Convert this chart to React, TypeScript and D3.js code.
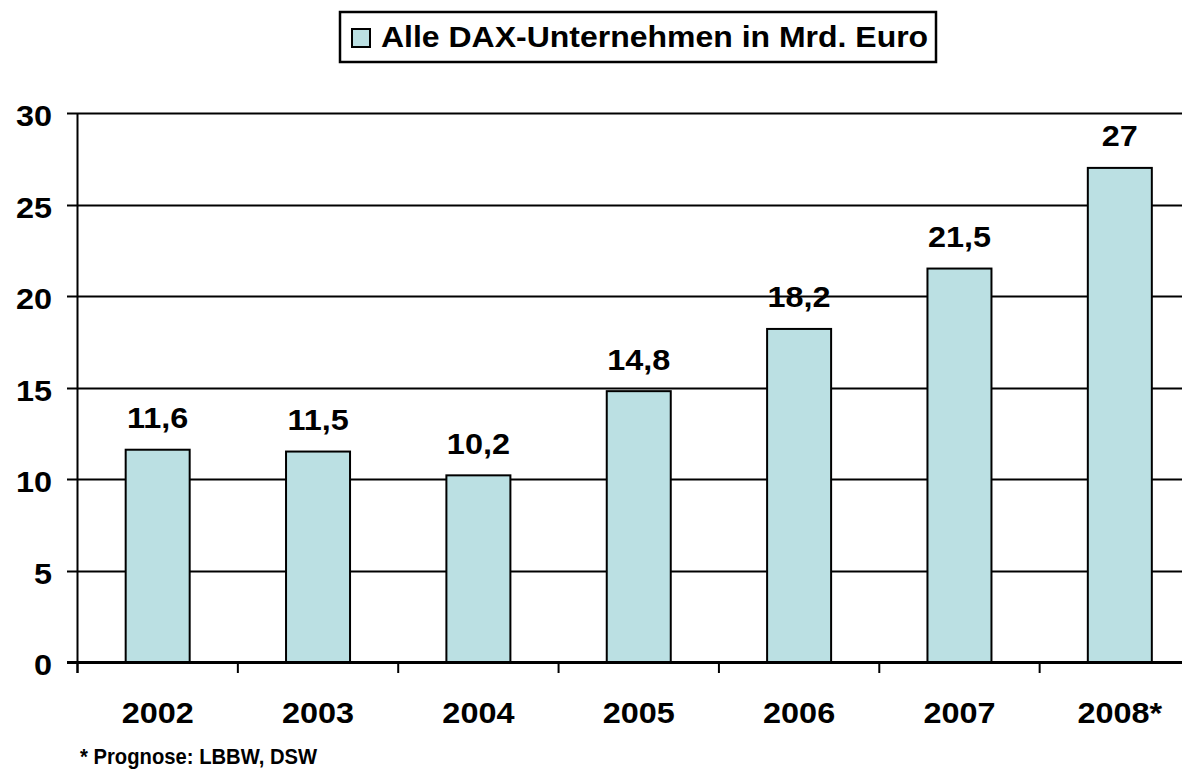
import React from "react";
import * as d3 from "d3";

const categories = ["2002", "2003", "2004", "2005", "2006", "2007", "2008*"];
const values = [11.6, 11.5, 10.2, 14.8, 18.2, 21.5, 27];
const valueLabels = ["11,6", "11,5", "10,2", "14,8", "18,2", "21,5", "27"];
const yTicks = [0, 5, 10, 15, 20, 25, 30];
const legendLabel = "Alle DAX-Unternehmen in Mrd. Euro";
const footnote = "* Prognose: LBBW, DSW";

const W = 1182;
const H = 775;
const FONT = "'Liberation Sans', Arial, sans-serif";
const BAR = "#BBE0E3";

function T(props: { x: number; y: number; sx: number; size: number; anchor?: string; children: React.ReactNode }) {
  return (
    <text
      transform={`translate(${props.x},${props.y}) scale(${props.sx},1)`}
      textAnchor={props.anchor || "start"}
      fontFamily={FONT}
      fontWeight="bold"
      fontSize={props.size}
      fill="#000"
    >
      {props.children}
    </text>
  );
}

export default function App() {
  const x0 = 77.5;
  const x1 = 1200;
  const y = d3.scaleLinear().domain([0, 30]).range([662, 113]);
  const x = d3.scaleBand<string>().domain(categories).range([x0, x1]).paddingInner(0).paddingOuter(0);
  const bw = 64;
  const boundaries = categories.map((c) => x(c)!).concat([x1]);

  return (
    <svg width={W} height={H} style={{ position: "absolute", left: 0, top: 0, background: "#fff" }}>
      <rect x={0} y={0} width={W} height={H} fill="#fff" />
      {yTicks.filter((t) => t > 0).map((t) => (
        <line key={t} x1={67} x2={W} y1={Math.round(y(t)) + 0.5} y2={Math.round(y(t)) + 0.5} stroke="#000" strokeWidth={2} />
      ))}
      {categories.map((c, i) => {
        const cx = x(c)! + x.bandwidth() / 2;
        return (
          <g key={c}>
            <rect x={cx - bw / 2} y={y(values[i])} width={bw} height={y(0) - y(values[i])} fill={BAR} stroke="#000" strokeWidth={2} />
            <T x={cx} y={y(values[i]) - 21.5} sx={1.08} size={30} anchor="middle">{valueLabels[i]}</T>
            <T x={cx} y={723} sx={1.08} size={30} anchor="middle">{c}</T>
          </g>
        );
      })}
      <line x1={x0} x2={x0} y1={113} y2={673} stroke="#000" strokeWidth={2} />
      <line x1={67} x2={W} y1={662.5} y2={662.5} stroke="#000" strokeWidth={3} />
      {boundaries.map((b, i) => (
        <line key={i} x1={b} x2={b} y1={662} y2={673} stroke="#000" strokeWidth={2} />
      ))}
      {yTicks.map((t) => (
        <T key={t} x={52} y={y(t) + 13} sx={1.08} size={30} anchor="end">{t}</T>
      ))}
      <rect x={340} y={12} width={596} height={50} fill="#fff" stroke="#000" strokeWidth={2.5} />
      <rect x={352} y={29} width={18} height={18} fill={BAR} stroke="#000" strokeWidth={2} />
      <T x={381} y={47} sx={1.066} size={30}>{legendLabel}</T>
      <T x={80} y={764} sx={0.92} size={22}>{footnote}</T>
    </svg>
  );
}
